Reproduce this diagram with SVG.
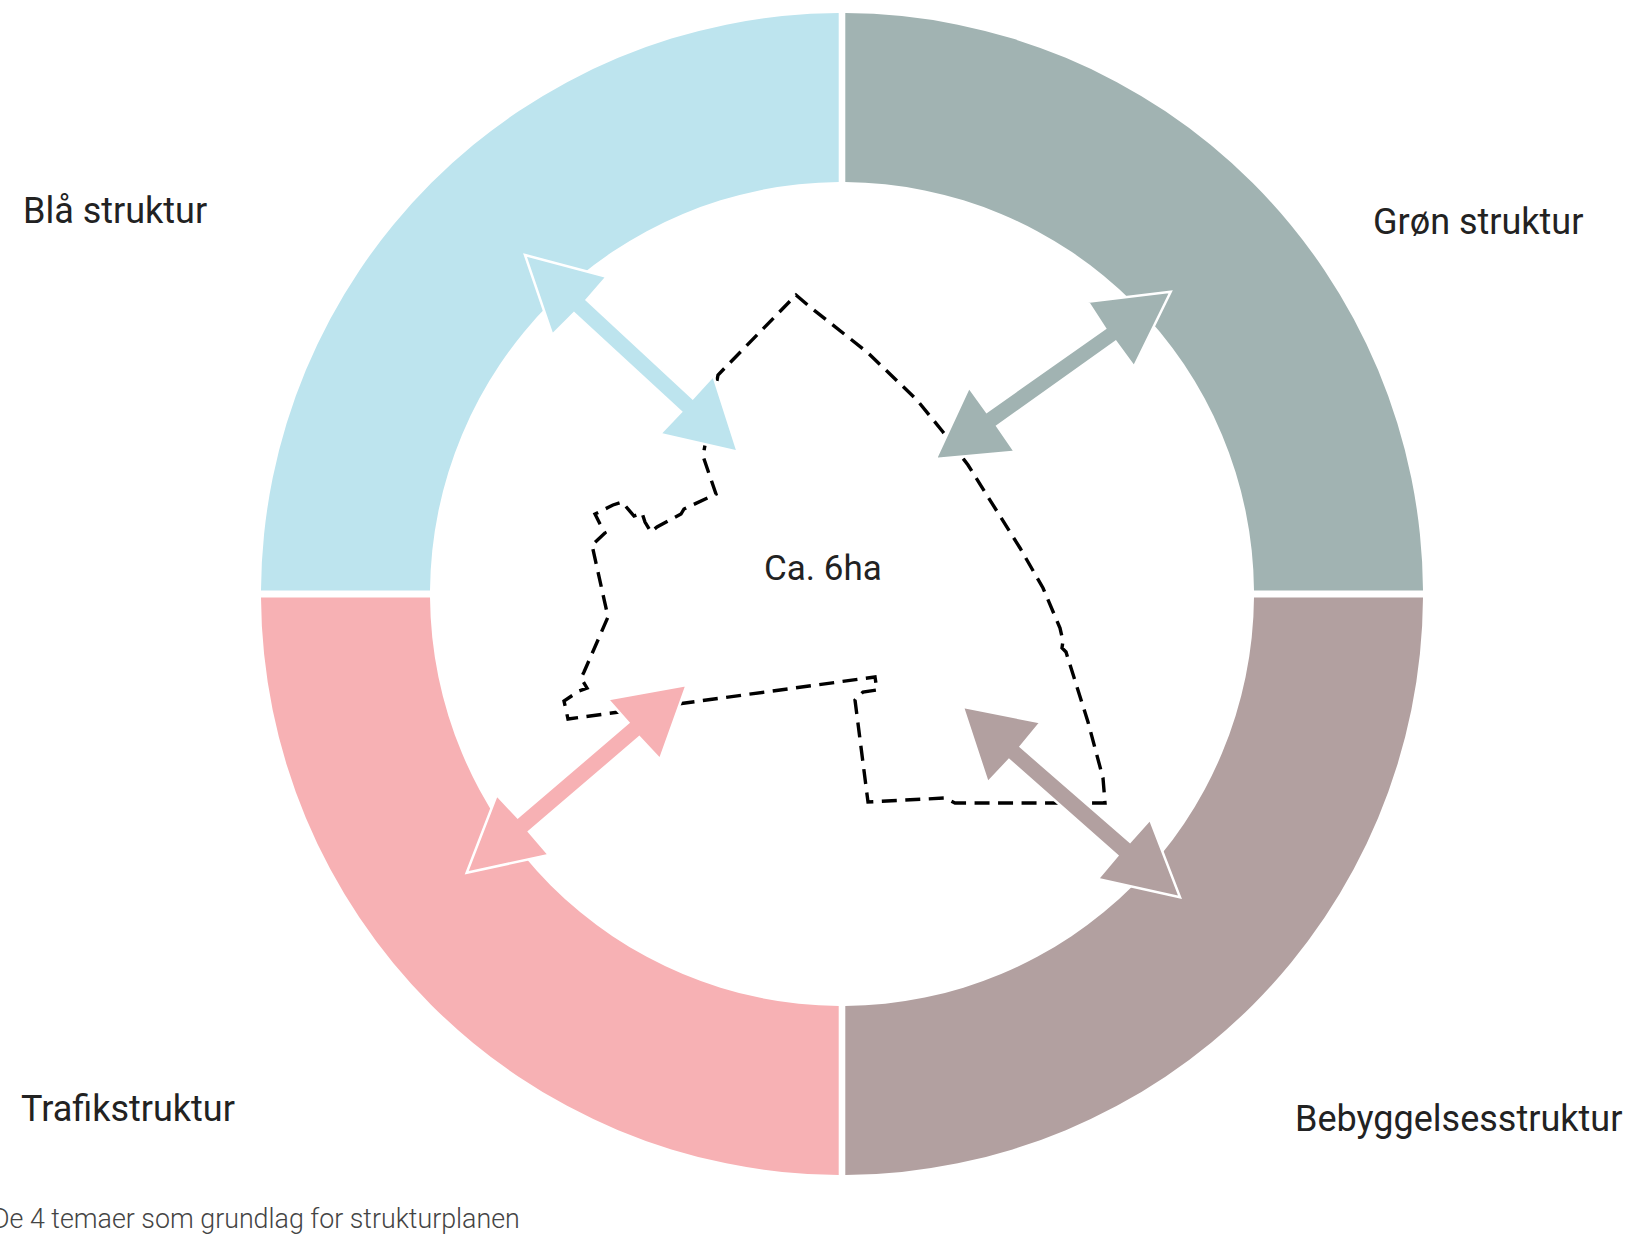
<svg xmlns="http://www.w3.org/2000/svg" width="1634" height="1238" viewBox="0 0 1634 1238">
<style>
.lbl{font-family:Roboto,"Liberation Sans",sans-serif;font-size:36px;fill:#222;}
.ctr{font-family:Roboto,"Liberation Sans",sans-serif;font-size:35px;fill:#222;}
.cap{font-family:Roboto,"Liberation Sans",sans-serif;font-size:26.8px;font-weight:300;fill:#444;}
.arr{stroke:#fff;stroke-width:2.5;stroke-linejoin:miter;}
.bound{fill:none;stroke:#000;stroke-width:3.4;stroke-dasharray:15 8.5;}
</style>
<rect width="1634" height="1238" fill="#fff"/>
<g id="bla-struktur">
<path d="M838.7,13 A581,581 0 0 0 261,590.5 L430,590.5 A412,412 0 0 1 838.7,182 Z" fill="#BDE4EE"/>
<text class="lbl" x="23" y="223">Blå struktur</text>
</g>
<g id="gron-struktur">
<path d="M845.3,13 A581,581 0 0 1 1423,590.5 L1254,590.5 A412,412 0 0 0 845.3,182 Z" fill="#A1B3B2"/>
<text class="lbl" x="1373" y="234">Grøn struktur</text>
</g>
<g id="trafikstruktur">
<path d="M261,597.5 A581,581 0 0 0 838.7,1175 L838.7,1006 A412,412 0 0 1 430,597.5 Z" fill="#F7B1B4"/>
<text class="lbl" x="21" y="1121">Trafikstruktur</text>
</g>
<g id="bebyggelsesstruktur">
<path d="M845.3,1175 A581,581 0 0 0 1423,597.5 L1254,597.5 A412,412 0 0 1 845.3,1006 Z" fill="#B2A0A0"/>
<text class="lbl" x="1295" y="1131">Bebyggelsesstruktur</text>
</g>
<g id="planomrade">
<path class="bound" d="M796,295 L810,307 L867,352 L917,400 L943,432 L968,465 L1020,548 L1043,588 L1060,628 L1063,641 L1062,648 L1066,652 L1088,722 L1103,778 L1105,803 L955,803 L945,798 L868,802 L855,700 L863,692 L877,690 L875,677 L568,719 L564,701 L579,691 L587,688 L581,678 L584,672 L608,617 L592,545 L605,533 L600,524 L595,514 L613,505 L622,502 L634,516 L642,513 L645,522 L651,532 L657,527 L681,514 L684,509 L716,494 L703,456 L718,375 Z"/>
<text class="ctr" x="764" y="580">Ca. 6ha</text>
</g>
<g id="connectors">
<polygon class="arr" fill="#BDE4EE" points="525,255 606.7,276.7 586.7,300 692.7,398.3 713.3,375.7 737.7,451.7 660,434 681,411.7 574,313.3 552.3,335"/>
<polygon class="arr" fill="#A1B3B2" points="1170.7,291.7 1087.7,301.7 1105,328.3 986.7,411.7 969,387.3 935.7,459 1015,451.7 997.3,426 1115.7,341.7 1134,366.7"/>
<polygon class="arr" fill="#F7B1B4" points="466.7,872.7 496.7,795 517.7,817.3 628.3,722.7 607.7,699.3 686.7,685 660,759.3 639.3,737.3 529,831.7 549,855"/>
<polygon class="arr" fill="#B2A0A0" points="962.7,706.7 1040.7,722.3 1020.7,746.7 1130,841.7 1150,819.3 1180,897.3 1097.7,879 1117.3,855.7 1009,760 987.7,782.7"/>
</g>
<text class="cap" x="-8" y="1228">De 4 temaer som grundlag for strukturplanen</text>
</svg>
